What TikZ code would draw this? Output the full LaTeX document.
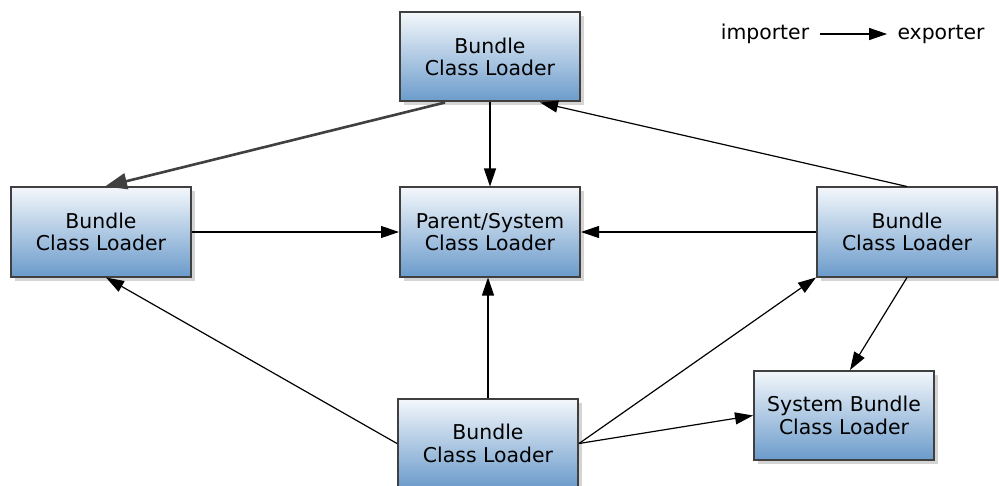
\documentclass[tikz,border=0pt]{standalone}
\usepackage{fontspec}
\setmainfont{DejaVu Sans}
\usetikzlibrary{arrows.meta,shadows}

\definecolor{boxtop}{HTML}{F3F7FB}
\definecolor{boxbot}{HTML}{6B9BCB}
\definecolor{boxline}{HTML}{404040}
\definecolor{boxshade}{HTML}{D4D4D4}

\begin{document}
\begin{tikzpicture}[x=0.5pt, y=-0.5pt]
	\tikzstyle{loader} = [ draw=boxline, line width=1pt, rectangle, minimum width=90pt, minimum height=44.5pt, top color=boxtop, bottom color=boxbot, align=center, font={\fontsize{10.2}{11.2}\selectfont}, drop shadow={shadow xshift=2pt, shadow yshift=-2pt, fill=boxshade, opacity=1} ];
	\tikzstyle{legend} = [ inner sep=5pt, font={\fontsize{10.2}{11.2}\selectfont} ];
	\tikzstyle{import} = [ -{Triangle[length=9pt, width=6pt]}, line width=0.6pt ];
	\tikzstyle{heavy} = [ -{Triangle[length=11pt, width=8pt]}, line width=1.3pt, color=boxline ];

	\useasboundingbox (0,0) rectangle (999,486);

	\node[loader] (top)    at (490,57)  {Bundle\\Class Loader};
	\node[loader] (left)   at (101,232)   {Bundle\\Class Loader};
	\node[loader] (parent) at (490,232)   {Parent/System\\Class Loader};
	\node[loader] (right)  at (907,232)   {Bundle\\Class Loader};
	\node[loader] (bottom) at (488,443.5) {Bundle\\Class Loader};
	\node[loader] (system) at (844,415.5) {System Bundle\\Class Loader};

	% legend
	\node[legend] (imp) at (765,34) {importer};
	\node[legend] (exp) at (941,34) {exporter};
	\draw[import] (imp) -- (exp);

	\foreach \a/\b in {top.south/parent.north, left.east/parent.west, right.west/parent.east, bottom.east/right.south west, bottom.east/system.west} {
		\draw[import] (\a) -- (\b);
	}

	\draw[heavy] ([xshift=-22.5pt]top.south) -- ([xshift=2pt]left.north);
	\draw[import] (right.north) -- ([xshift=25pt]top.south);
	\draw[import] (bottom.north) -- (bottom.north |- parent.south);
	\draw[import] (bottom.west) -- ([xshift=2.5pt]left.south);
	\draw[import] (right.south) -- ([xshift=3pt]system.north);
\end{tikzpicture}
\end{document}
